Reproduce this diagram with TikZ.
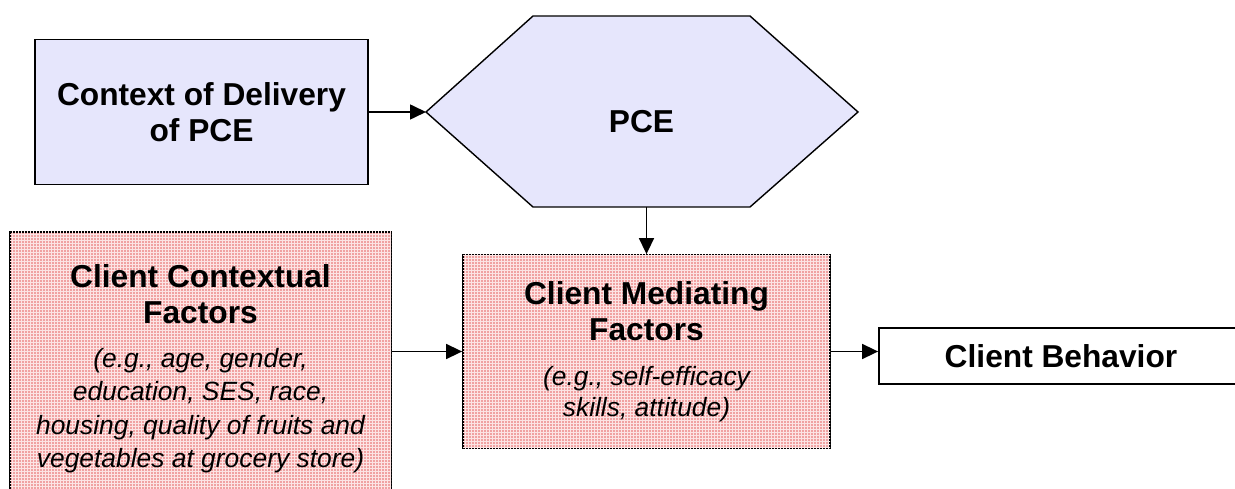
\documentclass[tikz,border=0pt]{standalone}
\usepackage{fontspec}
\setmainfont{Liberation Sans}
\usetikzlibrary{arrows.meta,patterns}
\definecolor{lav}{RGB}{230,230,252}
\definecolor{pinkfill}{RGB}{240,162,162}
\definecolor{pinkline}{RGB}{252,228,228}
\pgfdeclarepatternformonly{cellgrid}{\pgfqpoint{-1pt}{-1pt}}{\pgfqpoint{4pt}{4pt}}{\pgfqpoint{3pt}{3pt}}{%
  \pgfsetlinewidth{0.9pt}%
  \pgfpathmoveto{\pgfqpoint{0pt}{0pt}}\pgfpathlineto{\pgfqpoint{3.1pt}{0pt}}%
  \pgfpathmoveto{\pgfqpoint{0pt}{0pt}}\pgfpathlineto{\pgfqpoint{0pt}{3.1pt}}%
  \pgfusepath{stroke}}
\newcommand{\tbold}[1]{{\fontsize{31.7}{32}\selectfont\bfseries #1}}
\newcommand{\titl}[1]{{\fontsize{26.4}{32}\selectfont\itshape #1}}
\begin{document}
\begin{tikzpicture}[x=1pt,y=-1pt,
  box/.style={draw=black,line width=1.8pt,inner sep=0pt,align=center,
    font=\fontsize{26.4}{32}\selectfont},
  pinkbox/.style={box,fill=pinkfill,postaction={pattern=cellgrid,pattern color=pinkline}},
  lavbox/.style={box,fill=lav},
  arr/.style={-{Triangle[length=16pt,width=15pt]},line width=1.6pt},
  hexline/.style={draw=black,line width=1.4pt,fill=lav}]
\useasboundingbox (0,0) rectangle (1235,489);

% hexagon
\draw[hexline] (426,112) -- (533,16) -- (750,16) -- (858,112) -- (750,207) -- (533,207) -- cycle;
\coordinate (hexW) at (426,112);
\coordinate (hexS) at (646.5,207);
\node[font=\fontsize{31.7}{32}\selectfont\bfseries] (pce) at (641.5,122) {PCE};

% context of delivery
\node[lavbox,minimum width=333pt,minimum height=145pt] (ctx) at (201.5,112)
  {\tbold{Context of Delivery}\\[4pt]\tbold{of PCE}};

% client contextual factors (runs off the bottom edge)
\node[pinkbox,minimum width=381pt,minimum height=274pt] (ccf) at (200.5,369)
  {\tbold{Client Contextual}\\[4pt]\tbold{Factors}\\[12pt]
   \titl{(e.g., age, gender,}\\[1.5pt]\titl{education, SES, race,}\\[1.5pt]
   \titl{housing, quality of fruits and}\\[1.5pt]\titl{vegetables at grocery store)}};

% client mediating factors
\node[pinkbox,minimum width=367pt,minimum height=193pt] (cmf) at (646.5,351.5)
  {\tbold{Client Mediating}\\[4pt]\tbold{Factors}\\[13pt]
   \titl{(e.g., self-efficacy}\\[-1pt]\titl{skills, attitude)}};

% client behavior (runs off the right edge)
\node[box,fill=white,minimum width=364pt,minimum height=56pt] (cb) at (1061,356)
  {\tbold{Client Behavior}};

% connectors
\draw[arr] (ctx.east) -- (hexW);
\draw[arr] (hexS) -- (cmf.north);
\draw[arr] (cmf.west -| ccf.east) -- (cmf.west);
\draw[arr] (cmf.east) -- (cmf.east -| cb.west);
\end{tikzpicture}
\end{document}
